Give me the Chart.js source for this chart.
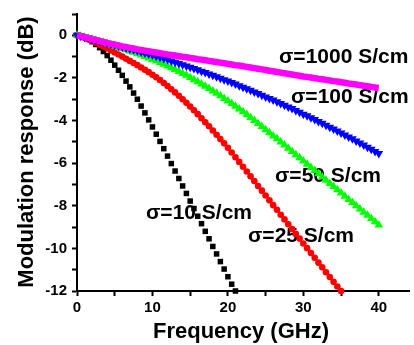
<!DOCTYPE html>
<html>
<head>
<meta charset="utf-8">
<script src="https://cdn.jsdelivr.net/npm/chart.js@4.4.1/dist/chart.umd.min.js"></script>
<style>
  html, body { margin: 0; padding: 0; background: #fff; }
  #chart { display: block; }
</style>
</head>
<body>
<canvas id="chart" width="414" height="345"></canvas>
<script>
// Frequency axis (GHz), one sample every 0.5 GHz
const freq = [
  0, 0.5, 1, 1.5, 2, 2.5, 3, 3.5, 4, 4.5, 5, 5.5, 6, 6.5, 7, 7.5, 8, 8.5, 9, 9.5,
  10, 10.5, 11, 11.5, 12, 12.5, 13, 13.5, 14, 14.5, 15, 15.5, 16, 16.5, 17, 17.5, 18, 18.5, 19, 19.5,
  20, 20.5, 21, 21.5, 22, 22.5, 23, 23.5, 24, 24.5, 25, 25.5, 26, 26.5, 27, 27.5, 28, 28.5, 29, 29.5,
  30, 30.5, 31, 31.5, 32, 32.5, 33, 33.5, 34, 34.5, 35, 35.5, 36, 36.5, 37, 37.5, 38, 38.5, 39, 39.5, 40
];

// Modulation response (dB) for each conductivity
const sigma10 = [
  0, -0.04, -0.1, -0.19, -0.3, -0.43, -0.58, -0.76, -0.95, -1.17, -1.4, -1.64, -1.88, -2.15, -2.42, -2.71, -3.0, -3.32, -3.64, -3.97,
  -4.3, -4.64, -4.98, -5.32, -5.67, -6.02, -6.37, -6.72, -7.07, -7.42, -7.78, -8.13, -8.49, -8.84, -9.2, -9.55, -9.91, -10.26, -10.62, -10.97,
  -11.33, -11.68, -12.0
];
const sigma25 = [
  0, -0.06, -0.12, -0.19, -0.27, -0.35, -0.44, -0.53, -0.62, -0.71, -0.81, -0.9, -1.0, -1.1, -1.2, -1.3, -1.4, -1.51, -1.62, -1.73,
  -1.85, -1.97, -2.1, -2.24, -2.38, -2.53, -2.68, -2.84, -3.0, -3.17, -3.34, -3.52, -3.7, -3.89, -4.08, -4.27, -4.47, -4.67, -4.87, -5.07,
  -5.28, -5.5, -5.72, -5.94, -6.17, -6.39, -6.62, -6.84, -7.07, -7.29, -7.52, -7.74, -7.97, -8.19, -8.42, -8.64, -8.87, -9.09, -9.32, -9.54,
  -9.77, -9.99, -10.22, -10.44, -10.67, -10.89, -11.12, -11.34, -11.57, -11.79, -12.0
];
const sigma50 = [
  0, -0.04, -0.09, -0.14, -0.19, -0.24, -0.29, -0.34, -0.4, -0.45, -0.51, -0.56, -0.62, -0.68, -0.74, -0.8, -0.86, -0.92, -0.99, -1.06,
  -1.13, -1.2, -1.28, -1.36, -1.44, -1.52, -1.61, -1.7, -1.79, -1.88, -1.98, -2.08, -2.18, -2.28, -2.39, -2.5, -2.61, -2.72, -2.84, -2.96,
  -3.08, -3.2, -3.33, -3.46, -3.59, -3.72, -3.86, -4.0, -4.14, -4.28, -4.43, -4.57, -4.72, -4.86, -5.01, -5.15, -5.3, -5.45, -5.6, -5.75,
  -5.9, -6.05, -6.2, -6.35, -6.5, -6.65, -6.8, -6.95, -7.1, -7.25, -7.4, -7.55, -7.7, -7.85, -8.0, -8.15, -8.3, -8.45, -8.6, -8.75, -8.9
];
const sigma100 = [
  0, -0.04, -0.09, -0.13, -0.18, -0.23, -0.28, -0.32, -0.37, -0.41, -0.46, -0.5, -0.55, -0.59, -0.64, -0.68, -0.73, -0.78, -0.83, -0.88,
  -0.93, -0.98, -1.03, -1.09, -1.14, -1.2, -1.26, -1.32, -1.38, -1.44, -1.5, -1.56, -1.62, -1.69, -1.75, -1.82, -1.88, -1.95, -2.02, -2.09,
  -2.15, -2.22, -2.29, -2.37, -2.44, -2.51, -2.58, -2.66, -2.73, -2.81, -2.89, -2.96, -3.04, -3.12, -3.2, -3.28, -3.36, -3.44, -3.53, -3.61,
  -3.7, -3.78, -3.87, -3.95, -4.04, -4.13, -4.22, -4.31, -4.4, -4.49, -4.58, -4.68, -4.77, -4.86, -4.96, -5.06, -5.15, -5.25, -5.35, -5.45, -5.55
];
const sigma1000 = [
  0, -0.04, -0.09, -0.13, -0.18, -0.22, -0.27, -0.31, -0.36, -0.4, -0.44, -0.48, -0.52, -0.55, -0.59, -0.62, -0.66, -0.69, -0.72, -0.75,
  -0.78, -0.81, -0.84, -0.87, -0.9, -0.92, -0.95, -0.98, -1.01, -1.03, -1.06, -1.09, -1.12, -1.14, -1.17, -1.2, -1.23, -1.25, -1.28, -1.31,
  -1.34, -1.37, -1.4, -1.42, -1.45, -1.48, -1.51, -1.54, -1.57, -1.6, -1.63, -1.66, -1.69, -1.72, -1.75, -1.78, -1.81, -1.84, -1.87, -1.9,
  -1.93, -1.95, -1.98, -2.01, -2.04, -2.06, -2.09, -2.12, -2.15, -2.17, -2.2, -2.23, -2.26, -2.28, -2.31, -2.34, -2.37, -2.39, -2.42, -2.45, -2.47
];

// Axis ticks
const xTicks = [0, 5, 10, 15, 20, 25, 30, 35, 40];
const xTickLabels = [0, 10, 20, 30, 40];
const yTicks = [-12, -11, -10, -9, -8, -7, -6, -5, -4, -3, -2, -1, 0, 1];
const yTickLabels = [-12, -10, -8, -6, -4, -2, 0];

const FONT = '"Liberation Sans", Arial, Helvetica, sans-serif';

// Curve labels drawn next to the lines
const curveLabels = [
  { text: 'σ=1000 S/cm', x: 279, y: 57 },
  { text: 'σ=100 S/cm', x: 291, y: 97 },
  { text: 'σ=50 S/cm', x: 275, y: 176 },
  { text: 'σ=25 S/cm', x: 248, y: 236 },
  { text: 'σ=10 S/cm', x: 146, y: 213 }
];

function toPoints(values) {
  return values.map((v, i) => ({ x: freq[i], y: v }));
}

const textPlugin = {
  id: 'plotText',
  beforeDatasetsDraw(chart) {
    const ctx = chart.ctx;
    ctx.save();
    ctx.fillStyle = '#000';
    ctx.font = 'bold 21px ' + FONT;
    ctx.textAlign = 'left';
    ctx.textBaseline = 'middle';
    curveLabels.forEach(l => ctx.fillText(l.text, l.x, l.y));
    ctx.restore();
  },
  afterDraw(chart) {
    const ctx = chart.ctx;
    ctx.save();
    ctx.fillStyle = '#000';
    ctx.font = 'bold 22px ' + FONT;
    ctx.textAlign = 'center';
    ctx.textBaseline = 'middle';
    ctx.fillText('Frequency (GHz)', 241, 332);
    ctx.translate(27, 152);
    ctx.rotate(-Math.PI / 2);
    ctx.fillText('Modulation response (dB)', 0, 0);
    ctx.restore();
  }
};

const markerSet = (color, style, radius, rotation) => ({
  showLine: false,
  pointStyle: style,
  pointRadius: radius,
  pointRotation: rotation || 0,
  pointBackgroundColor: color,
  pointBorderColor: color,
  pointBorderWidth: 0,
  clip: 6
});

new Chart(document.getElementById('chart'), {
  type: 'scatter',
  data: {
    datasets: [
      {
        label: 'σ=1000 S/cm',
        data: toPoints(sigma1000),
        showLine: true,
        borderColor: '#ff00ff',
        borderWidth: 6.5,
        borderCapStyle: 'butt',
        pointRadius: 0,
        clip: 6
      },
      Object.assign({ label: 'σ=100 S/cm', data: toPoints(sigma100) }, markerSet('#0000ff', 'triangle', 5, 180)),
      Object.assign({ label: 'σ=50 S/cm', data: toPoints(sigma50) }, markerSet('#00ff00', 'triangle', 5)),
      Object.assign({ label: 'σ=25 S/cm', data: toPoints(sigma25) }, markerSet('#ff0000', 'circle', 3.3)),
      Object.assign({ label: 'σ=10 S/cm', data: toPoints(sigma10) }, markerSet('#000000', 'rect', 3.9))
    ]
  },
  options: {
    responsive: false,
    animation: false,
    devicePixelRatio: 1,
    layout: { padding: { top: 10, right: 0, bottom: 0, left: 0 } },
    plugins: {
      legend: { display: false },
      tooltip: { enabled: false }
    },
    scales: {
      x: {
        type: 'linear',
        min: 0,
        max: 44,
        afterBuildTicks: scale => { scale.ticks = xTicks.map(v => ({ value: v })); },
        afterFit: scale => { scale.height = 54; },
        ticks: {
          autoSkip: false,
          maxRotation: 0,
          padding: 3,
          color: '#000',
          font: { family: FONT, size: 15, weight: 'bold' },
          callback: v => (xTickLabels.includes(v) ? String(v) : '')
        },
        grid: { drawOnChartArea: false, drawTicks: true, tickLength: 5, tickColor: '#000', tickWidth: 2 },
        border: { display: true, color: '#000', width: 2 }
      },
      y: {
        type: 'linear',
        min: -12,
        max: 1,
        afterBuildTicks: scale => { scale.ticks = yTicks.map(v => ({ value: v })); },
        afterFit: scale => { scale.width = 77; },
        ticks: {
          autoSkip: false,
          padding: 5,
          color: '#000',
          font: { family: FONT, size: 15, weight: 'bold' },
          callback: v => (yTickLabels.includes(v) ? String(v) : '')
        },
        grid: { drawOnChartArea: false, drawTicks: true, tickLength: 5, tickColor: '#000', tickWidth: 2 },
        border: { display: true, color: '#000', width: 2 }
      }
    }
  },
  plugins: [textPlugin]
});
</script>
</body>
</html>
